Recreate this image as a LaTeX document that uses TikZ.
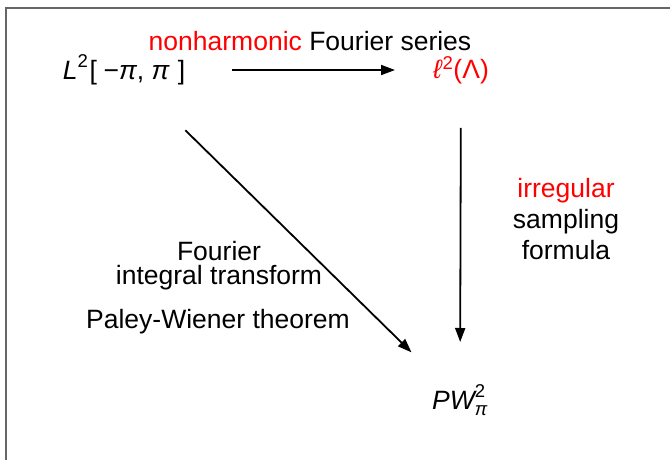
\documentclass[tikz,border=0pt]{standalone}
\usepackage{amsmath}
\usepackage{fontspec}
\setmainfont{Liberation Sans}
\usetikzlibrary{arrows.meta}
\begin{document}
\begin{tikzpicture}[x=1pt,y=-1pt,
  every node/.style={font=\fontsize{26.5}{31}\selectfont, inner sep=0pt},
  arr/.style={line width=1.8pt, -{Triangle[length=14pt,width=10pt]}},
  frame/.style={draw=black!60, line width=1.5pt}]
\useasboundingbox (0,0) rectangle (670,460);
\draw[frame] (6,460) -- (6,8) -- (670,8);

\node (nh) at (310,41) {\textcolor{red}{nonharmonic} Fourier series};
\node (L) at (124,70) {$\text{\itshape L}^{\text{2}}$\kern0.05em[\kern0.25em−\textit{π}, \textit{π}\kern0.3em]};
\node[text=red] (ell) at (461,70) {\textit{ℓ}$^{\text{2}}$(Λ)};
\node (pw) at (460,400) {$\text{\itshape PW}^{\text{2}}_{\text{\itshape π}}$};

\node[align=center] (irr) at (566,219) {\textcolor{red}{irregular}\\sampling\\formula};
\node (fou) at (219,251) {Fourier};
\node (int) at (219,278) {integral transform};
\node (pal) at (218,322) {Paley-Wiener theorem};

\draw[arr, shorten <=108pt, shorten >=66pt] (L.center) -- (ell.center);
\draw[arr, shorten <=58pt, shorten >=58pt] (ell.center) -- (pw.center);
\draw[arr, shorten <=86pt, shorten >=68pt] (L.center) -- (pw.center);
\end{tikzpicture}
\end{document}
